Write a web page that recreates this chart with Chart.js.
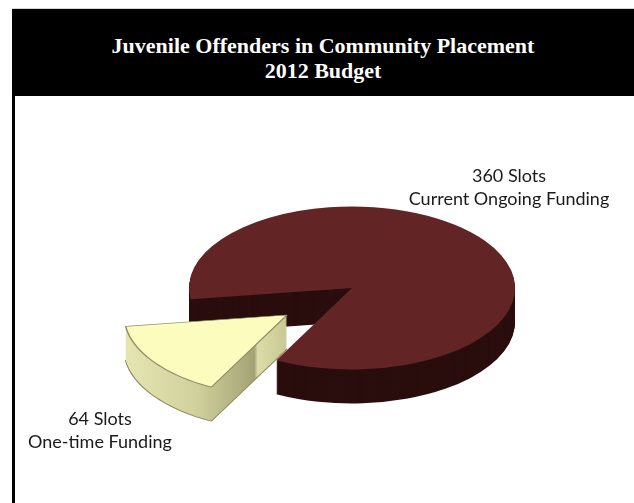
<!DOCTYPE html>
<html>
<head>
<meta charset="utf-8">
<title>Juvenile Offenders in Community Placement</title>
<script src="https://cdn.jsdelivr.net/npm/chart.js@4.4.1/dist/chart.umd.min.js"></script>
<style>
  html, body { margin: 0; padding: 0; background: #fff; }
  #wrap { position: relative; width: 634px; height: 503px; overflow: hidden; }
  #topline { position: absolute; left: 12px; top: 8px; width: 622px; height: 1px; background: #d4d4d4; }
  #titlebar {
    position: absolute; left: 12px; top: 9px; width: 622px; height: 63px;
    padding-top: 24px; background: #000; color: #fff;
    font-family: "Liberation Serif", "DejaVu Serif", serif; font-weight: bold;
    font-size: 22px; line-height: 25px; text-align: center;
  }
  #leftrule { position: absolute; left: 12px; top: 96px; width: 3px; height: 407px; background: #000; }
  #pie { position: absolute; left: 0; top: 0; }
</style>
</head>
<body>
<div id="wrap">
  <div id="topline"></div>
  <div id="titlebar">Juvenile Offenders in Community Placement<br>2012 Budget</div>
  <div id="leftrule"></div>
  <canvas id="pie" width="634" height="503"></canvas>
</div>
<script>
const categories = ['Current Ongoing Funding', 'One-time Funding'];
const slots = [360, 64];

const TILT = 0.5;            // vertical squash of the pie top
const DEPTH = 34;            // pie thickness in px
const EXPLODE = [-65, 27];   // screen shift of the pulled-out slice

// draw one arc flattened, shifted by dx/dy in screen space
function drawFlat(ctx, arc, dx, dy, override) {
    const saved = arc.options;
    arc.options = Object.assign({}, saved, override);
    ctx.save();
    ctx.translate(arc.x + dx, arc.y + dy);
    ctx.scale(1, TILT);
    ctx.translate(-arc.x, -arc.y);
    arc.draw(ctx);
    ctx.restore();
    arc.options = saved;
}

function sideFill(ctx, arc, i) {
    if (i === 0) {
        return '#2a0e0e';
    }
    // x is unscaled, so a plain horizontal gradient in arc coords works
    const g = ctx.createLinearGradient(arc.x - arc.outerRadius, 0, arc.x, 0);
    g.addColorStop(0, '#e6e6b2');
    g.addColorStop(0.45, '#d0d09c');
    g.addColorStop(0.8, '#a3a375');
    g.addColorStop(0.82, '#dcdcaa');
    g.addColorStop(1, '#c8c894');
    return g;
}

const pie3d = {
    id: 'pie3d',
    beforeDatasetsDraw(chart) {
        const ctx = chart.ctx;
        const arcs = chart.getDatasetMeta(0).data;
        arcs.forEach((arc, i) => {
            const shift = i === 1 ? EXPLODE : [0, 0];
            const fill = sideFill(ctx, arc, i);
            for (let d = DEPTH; d >= 1; d--) {
                drawFlat(ctx, arc, shift[0], shift[1] + d, {
                    backgroundColor: fill,
                    borderWidth: d === DEPTH ? arc.options.borderWidth : 0
                });
            }
            drawFlat(ctx, arc, shift[0], shift[1], {});
        });
        return false;
    }
};

const sliceLabels = {
    id: 'sliceLabels',
    afterDraw(chart) {
        const ctx = chart.ctx;
        const spots = [[509, 176], [100, 419]];
        ctx.save();
        ctx.font = '18px Lato, "Open Sans", sans-serif';
        ctx.fillStyle = '#1a1a1a';
        ctx.textAlign = 'center';
        ctx.textBaseline = 'middle';
        slots.forEach((v, i) => {
            ctx.fillText(v + ' Slots', spots[i][0], spots[i][1]);
            ctx.fillText(categories[i], spots[i][0], spots[i][1] + 23);
        });
        ctx.restore();
    }
};

new Chart(document.getElementById('pie'), {
    type: 'pie',
    data: {
        labels: categories,
        datasets: [{
            data: slots,
            backgroundColor: ['#632426', '#fcfcbf'],
            borderColor: ['#632426', '#8e8e66'],
            borderWidth: [0, 1.5]
        }]
    },
    options: {
        responsive: false,
        animation: false,
        events: [],
        rotation: -98,
        radius: 163,
        layout: { padding: { left: 70, top: 73, right: 0, bottom: 0 } },
        plugins: {
            legend: { display: false },
            tooltip: { enabled: false }
        }
    },
    plugins: [pie3d, sliceLabels]
});
</script>
</body>
</html>
